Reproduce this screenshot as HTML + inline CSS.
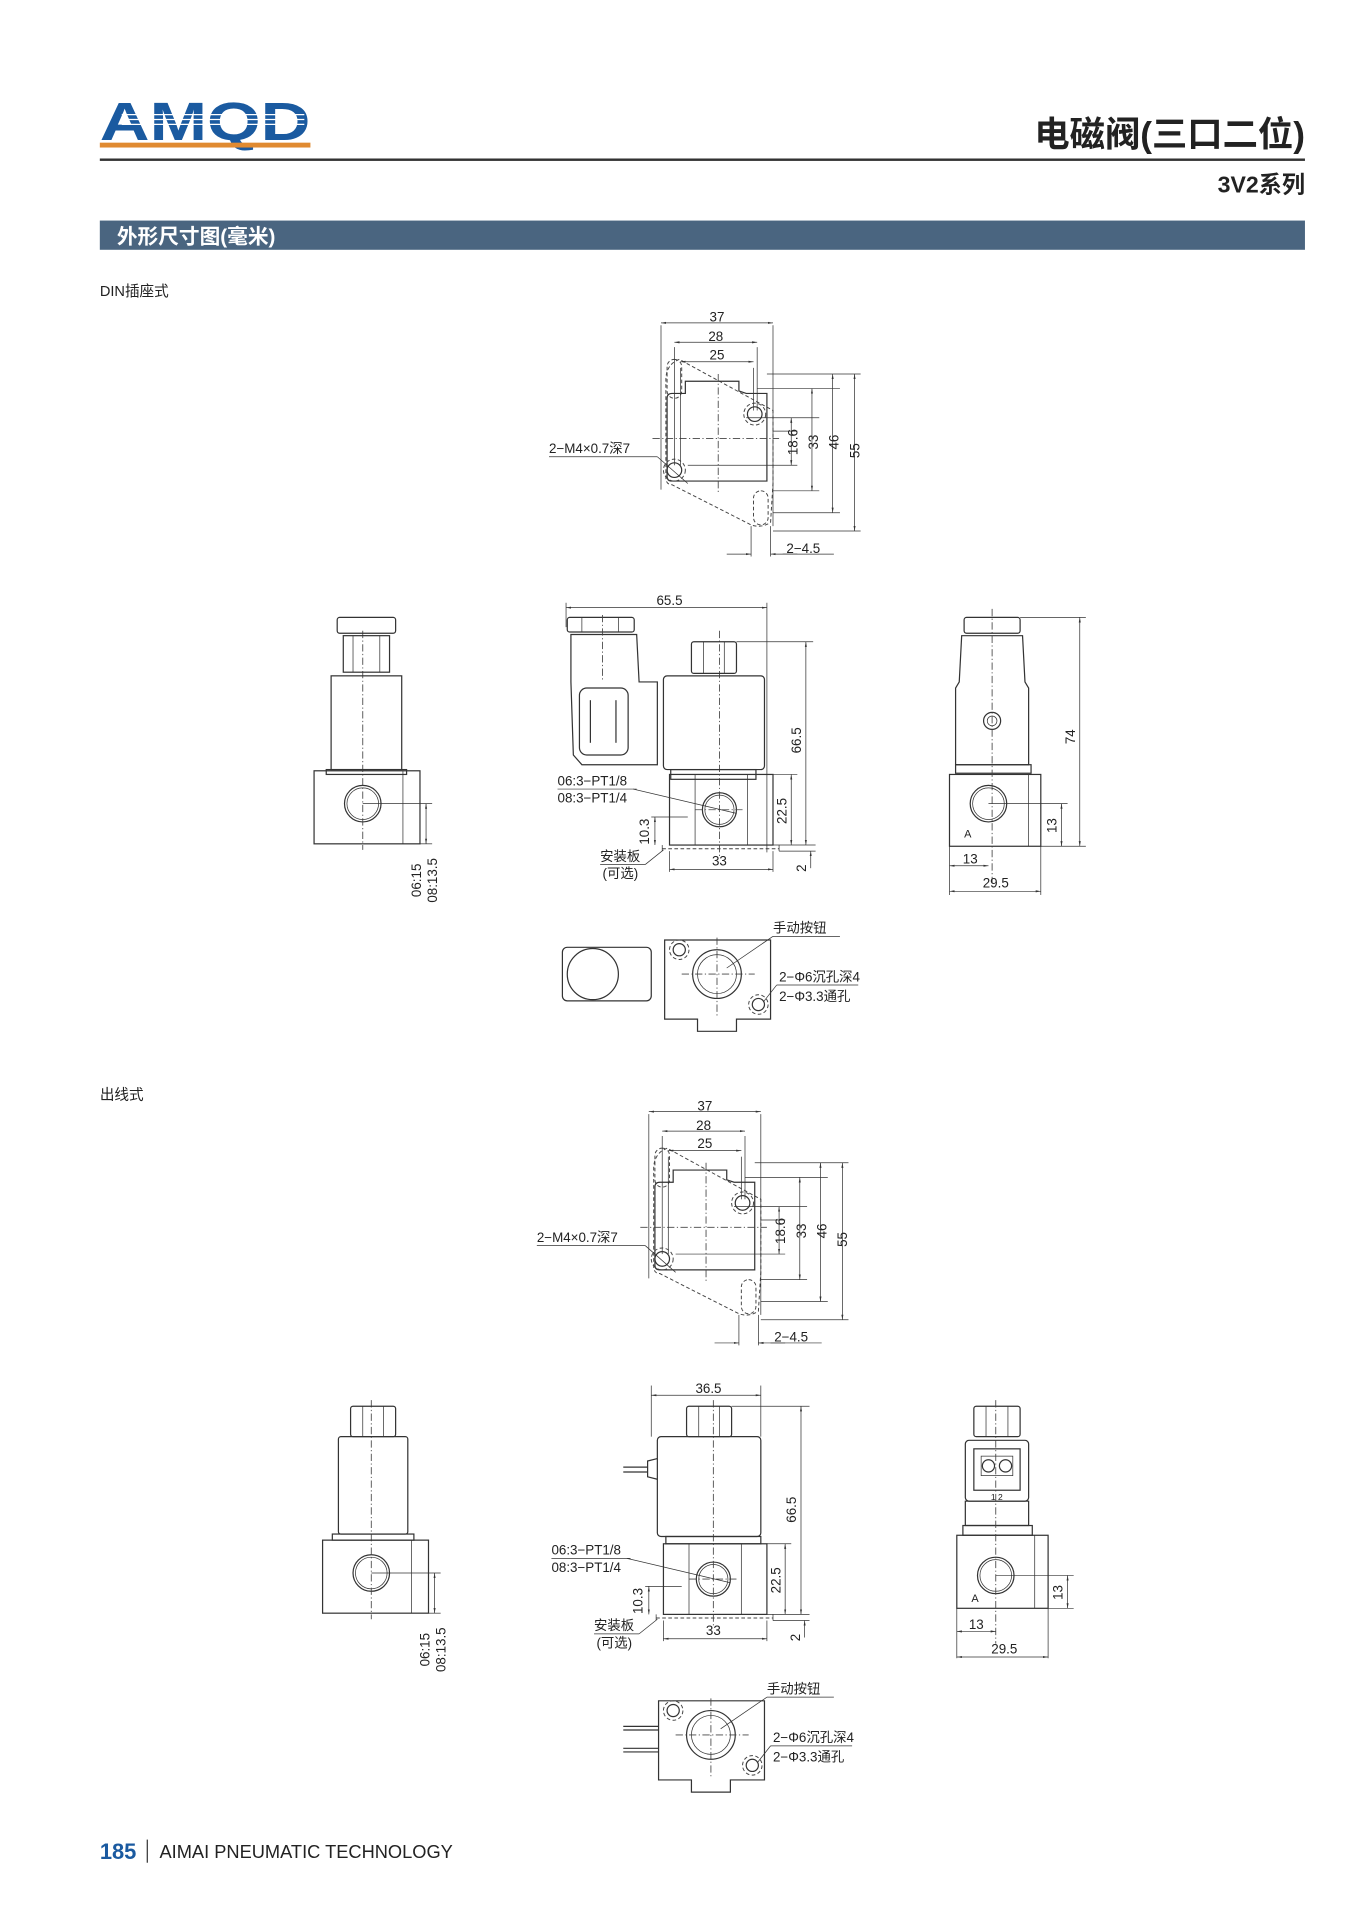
<!DOCTYPE html>
<html><head><meta charset="utf-8"><style>
html,body{margin:0;padding:0;background:#fff;}
svg{display:block;}
text{font-family:"Liberation Sans","Noto Sans CJK SC",sans-serif;fill:#222;}
.l{fill:none;stroke:#333;stroke-width:1;}
.t{fill:none;stroke:#333;stroke-width:0.6;}
.d{fill:none;stroke:#444;stroke-width:0.7;stroke-dasharray:6 2 1 2;}
.h{fill:none;stroke:#444;stroke-width:0.8;stroke-dasharray:3 2;}
.dim{font-size:11px;}
</style></head><body>
<svg width="1350" height="1908" viewBox="0 0 1109 1567" xmlns="http://www.w3.org/2000/svg">
<defs>
<marker id="a" viewBox="0 0 10 10" refX="10" refY="5" markerWidth="7" markerHeight="7" orient="auto-start-reverse"><path d="M0,3 L10,5 L0,7z" fill="#333"/></marker>

<g id="top">
  <path class="h" d="M548,943 L544,945 Q537,950 537,960 L537,1040 Q537,1046 542,1046 L607,1079 Q615,1082 623,1077 L625,1045 L625,985 L548,943z"/>
  <rect class="h" x="538" y="943" width="12" height="32" rx="6"/>
  <rect class="h" x="609" y="1051" width="12" height="28" rx="6"/>
  <path class="l" d="M538,975 Q538,971 542,971 L553,971 L553,961 L597,961 L597,969 L603,971 L620,971 L620,1043 L542,1043 Q538,1043 538,1039z"/>
  <line class="d" x1="526" y1="1008" x2="630" y2="1008"/>
  <line class="d" x1="580" y1="955" x2="580" y2="1052"/>
  <circle class="l" cx="610" cy="988" r="6"/><circle class="h" cx="610" cy="988" r="9"/>
  <circle class="l" cx="544" cy="1034" r="6"/><circle class="h" cx="544" cy="1034" r="9"/>
  <g class="t">
  <line x1="533" y1="915" x2="533" y2="1050"/><line x1="625" y1="915" x2="625" y2="1080"/>
  <line x1="544" y1="933" x2="544" y2="1030"/><line x1="612" y1="933" x2="612" y2="985"/>
  <line x1="549" y1="950" x2="549" y2="1030"/><line x1="609" y1="950" x2="609" y2="985"/>
  <line x1="620" y1="955" x2="697" y2="955"/><line x1="612" y1="967" x2="680" y2="967"/>
  <line x1="603" y1="991" x2="663" y2="991"/><line x1="625" y1="1002" x2="645" y2="1002"/>
  <line x1="555" y1="1030" x2="645" y2="1030"/><line x1="625" y1="1051" x2="663" y2="1051"/>
  <line x1="625" y1="1069" x2="680" y2="1069"/><line x1="625" y1="1084" x2="697" y2="1084"/>
  <line x1="607" y1="1080" x2="607" y2="1105"/><line x1="623" y1="1080" x2="623" y2="1105"/>
  </g>
  <line class="t" x1="533" y1="913" x2="625" y2="913" marker-start="url(#a)" marker-end="url(#a)"/>
  <line class="t" x1="544" y1="929" x2="612" y2="929" marker-start="url(#a)" marker-end="url(#a)"/>
  <line class="t" x1="549" y1="945" x2="609" y2="945" marker-start="url(#a)" marker-end="url(#a)"/>
  <line class="t" x1="640" y1="991" x2="640" y2="1030" marker-start="url(#a)" marker-end="url(#a)"/>
  <line class="t" x1="657" y1="967" x2="657" y2="1051" marker-start="url(#a)" marker-end="url(#a)"/>
  <line class="t" x1="674" y1="955" x2="674" y2="1069" marker-start="url(#a)" marker-end="url(#a)"/>
  <line class="t" x1="692" y1="955" x2="692" y2="1084" marker-start="url(#a)" marker-end="url(#a)"/>
  <line class="t" x1="587" y1="1103" x2="607" y2="1103" marker-end="url(#a)"/>
  <line class="t" x1="645" y1="1103" x2="623" y2="1103" marker-end="url(#a)"/>
  <line class="t" x1="633" y1="1103" x2="675" y2="1103"/>
  <text class="dim" x="579" y="912" text-anchor="middle">37</text>
  <text class="dim" x="578" y="928" text-anchor="middle">28</text>
  <text class="dim" x="579" y="943" text-anchor="middle">25</text>
  <text class="dim" x="636" y="1102">2−4.5</text>
  <text class="dim" transform="translate(645,1011) rotate(-90)" text-anchor="middle">18.6</text>
  <text class="dim" transform="translate(662,1011) rotate(-90)" text-anchor="middle">33</text>
  <text class="dim" transform="translate(679,1011) rotate(-90)" text-anchor="middle">46</text>
  <text class="dim" transform="translate(696,1018) rotate(-90)" text-anchor="middle">55</text>
  <text class="dim" x="441" y="1020">2−M4×0.7深7</text>
  <line class="t" x1="441" y1="1023" x2="530" y2="1023"/>
  <line class="t" x1="530" y1="1023" x2="555" y2="1045"/>
</g>

<g id="base">
  <rect class="l" x="545" y="1268" width="85" height="58"/>
  <line class="t" x1="566" y1="1268" x2="566" y2="1326"/><line class="t" x1="609" y1="1268" x2="609" y2="1326"/>
  <circle class="l" cx="586" cy="1297" r="14"/><circle class="t" cx="586" cy="1297" r="12"/>
  <line class="h" x1="539" y1="1329" x2="635" y2="1329"/>
  <line class="t" x1="539" y1="1326" x2="539" y2="1331"/><line class="t" x1="635" y1="1326" x2="635" y2="1331"/>
  <line class="d" x1="586" y1="1150" x2="586" y2="1335"/>
  <line class="d" x1="566" y1="1297" x2="606" y2="1297"/>
  <g class="t">
  <line x1="630" y1="1268" x2="650" y2="1268"/><line x1="630" y1="1326" x2="665" y2="1326"/>
  <line x1="635" y1="1331" x2="665" y2="1331"/><line x1="530" y1="1303" x2="560" y2="1303"/>
  <line x1="545" y1="1331" x2="545" y2="1348"/><line x1="630" y1="1331" x2="630" y2="1348"/>
  </g>
  <line class="t" x1="645" y1="1268" x2="645" y2="1326" marker-start="url(#a)" marker-end="url(#a)"/>
  <line class="t" x1="533" y1="1303" x2="533" y2="1326" marker-start="url(#a)" marker-end="url(#a)"/>
  <line class="t" x1="545" y1="1346" x2="630" y2="1346" marker-start="url(#a)" marker-end="url(#a)"/>
  <line class="t" x1="661" y1="1345" x2="661" y2="1331" marker-end="url(#a)"/>
  <text class="dim" transform="translate(641,1298) rotate(-90)" text-anchor="middle">22.5</text>
  <text class="dim" transform="translate(528,1315) rotate(-90)" text-anchor="middle">10.3</text>
  <text class="dim" transform="translate(657,1345) rotate(-90)" text-anchor="middle">2</text>
  <text class="dim" x="586" y="1343" text-anchor="middle">33</text>
  <text class="dim" x="453" y="1277">06:3−PT1/8</text>
  <line class="t" x1="453" y1="1280" x2="518" y2="1280"/>
  <line class="t" x1="515" y1="1280" x2="600" y2="1300"/>
  <text class="dim" x="453" y="1291">08:3−PT1/4</text>
  <text class="dim" x="488" y="1339">安装板</text>
  <line class="t" x1="488" y1="1342" x2="525" y2="1342"/><line class="t" x1="525" y1="1342" x2="540" y2="1330"/>
  <text class="dim" x="490" y="1353">(可选)</text>
</g>

<g id="side">
  <rect class="l" x="265" y="1265" width="87" height="60"/>
  <line class="t" x1="338" y1="1265" x2="338" y2="1325"/>
  <circle class="l" cx="305" cy="1292" r="15"/><circle class="t" cx="305" cy="1292" r="13"/>
  <line class="d" x1="305" y1="1150" x2="305" y2="1330"/>
  <line class="t" x1="305" y1="1292" x2="362" y2="1292"/><line class="t" x1="352" y1="1325" x2="362" y2="1325"/>
  <line class="t" x1="357" y1="1292" x2="357" y2="1325" marker-start="url(#a)" marker-end="url(#a)"/>
  <text class="dim" transform="translate(353,1355) rotate(-90)" text-anchor="middle">06:15</text>
  <text class="dim" transform="translate(366,1355) rotate(-90)" text-anchor="middle">08:13.5</text>
</g>

<g id="bottom">
  <path class="l" d="M541,1397 L628,1397 L628,1462 L600,1462 L600,1472 L568,1472 L568,1462 L541,1462z"/>
  <circle class="l" cx="584" cy="1425" r="20"/><circle class="t" cx="584" cy="1425" r="16"/>
  <circle class="l" cx="553" cy="1405" r="5"/><circle class="h" cx="553" cy="1405" r="8"/>
  <circle class="l" cx="618" cy="1450" r="5"/><circle class="h" cx="618" cy="1450" r="8"/>
  <line class="d" x1="555" y1="1425" x2="615" y2="1425"/><line class="d" x1="584" y1="1395" x2="584" y2="1460"/>
  <text class="dim" x="630" y="1391">手动按钮</text>
  <line class="t" x1="630" y1="1394" x2="685" y2="1394"/><line class="t" x1="630" y1="1394" x2="592" y2="1420"/>
  <text class="dim" x="635" y="1431">2−Φ6沉孔深4</text>
  <text class="dim" x="635" y="1447">2−Φ3.3通孔</text>
  <line class="t" x1="633" y1="1434" x2="700" y2="1434"/><line class="t" x1="633" y1="1434" x2="622" y2="1448"/>
</g>
</defs>

<!-- header -->
<text x="82" y="115" textLength="173" lengthAdjust="spacingAndGlyphs" style="font-size:44px;font-weight:bold;fill:#1a5aa0;">AMQD</text>
<g stroke="#fff" stroke-width="1"><line x1="100" y1="94" x2="250" y2="94"/><line x1="100" y1="98" x2="250" y2="98"/><line x1="100" y1="102" x2="250" y2="102"/></g>
<rect x="82" y="117" width="173" height="4" fill="#e08a30"/>
<rect x="82" y="130" width="990" height="2" fill="#333"/>
<text x="1072" y="120" text-anchor="end" style="font-size:29px;font-weight:bold;">电磁阀(三口二位)</text>
<text x="1072" y="158" text-anchor="end" style="font-size:19px;font-weight:bold;">3V2系列</text>
<rect x="82" y="181" width="990" height="24" fill="#4a6580"/>
<text x="96" y="200" style="font-size:17px;font-weight:bold;fill:#fff">外形尺寸图(毫米)</text>
<text x="82" y="243" style="font-size:12px;">DIN插座式</text>
<text x="82" y="903" style="font-size:12px;">出线式</text>

<!-- Section 1 -->
<use href="#top" transform="translate(10,-648)"/>
<g transform="translate(5,-632)"><use href="#base"/></g>
<g transform="translate(-7,-632)"><use href="#side"/></g>
<g transform="translate(5,-625)"><use href="#bottom"/></g>

<!-- front DIN -->
<rect class="l" x="551" y="632" width="70" height="8"/>
<rect class="l" x="545" y="555" width="83" height="77" rx="3"/>
<rect class="l" x="568" y="527" width="37" height="26" rx="2"/>
<line class="t" x1="578" y1="527" x2="578" y2="553"/><line class="t" x1="595" y1="527" x2="595" y2="553"/>
<rect class="l" x="466" y="507" width="55" height="12" rx="2"/>
<line class="t" x1="478" y1="507" x2="478" y2="519"/><line class="t" x1="508" y1="507" x2="508" y2="519"/>
<path class="l" d="M469,521 L523,521 L525,560 L540,560 L540,628 L478,628 L471,620 L469,560z"/>
<rect class="l" x="476" y="565" width="40" height="55" rx="6"/>
<line class="l" x1="485" y1="575" x2="485" y2="610"/><line class="l" x1="506" y1="575" x2="506" y2="610"/>
<line class="d" x1="495" y1="505" x2="495" y2="560"/>
<line class="t" x1="465" y1="495" x2="465" y2="515"/><line class="t" x1="630" y1="495" x2="630" y2="700"/>
<line class="t" x1="465" y1="499" x2="630" y2="499" marker-start="url(#a)" marker-end="url(#a)"/>
<text class="dim" x="550" y="497" text-anchor="middle">65.5</text>
<line class="t" x1="605" y1="527" x2="668" y2="527"/>
<line class="t" x1="662" y1="527" x2="662" y2="694" marker-start="url(#a)" marker-end="url(#a)"/>
<text class="dim" transform="translate(658,608) rotate(-90)" text-anchor="middle">66.5</text>

<!-- side left DIN -->
<rect class="l" x="277" y="507" width="48" height="13" rx="2"/>
<rect class="l" x="282" y="522" width="38" height="30"/>
<line class="t" x1="290" y1="522" x2="290" y2="552"/><line class="t" x1="312" y1="522" x2="312" y2="552"/>
<rect class="l" x="272" y="555" width="58" height="77"/>
<rect class="l" x="268" y="632" width="66" height="4"/>

<!-- right DIN -->
<rect class="l" x="792" y="507" width="46" height="13" rx="2"/>
<path class="l" d="M790,522 L840,522 L842,560 L845,565 L845,628 L785,628 L785,565 L788,560z"/>
<circle class="l" cx="815" cy="592" r="7"/><circle class="t" cx="815" cy="592" r="4"/>
<rect class="l" x="785" y="628" width="62" height="7"/>
<rect class="l" x="780" y="636" width="75" height="59"/>
<line class="t" x1="845" y1="636" x2="845" y2="695"/>
<circle class="l" cx="812" cy="660" r="15"/><circle class="t" cx="812" cy="660" r="13"/>
<line class="d" x1="815" y1="500" x2="815" y2="725"/>
<text x="792" y="688" style="font-size:9px">A</text>
<line class="t" x1="838" y1="507" x2="892" y2="507"/><line class="t" x1="855" y1="695" x2="892" y2="695"/>
<line class="t" x1="812" y1="660" x2="877" y2="660"/>
<line class="t" x1="887" y1="507" x2="887" y2="695" marker-start="url(#a)" marker-end="url(#a)"/>
<line class="t" x1="872" y1="660" x2="872" y2="695" marker-start="url(#a)" marker-end="url(#a)"/>
<text class="dim" transform="translate(883,605) rotate(-90)" text-anchor="middle">74</text>
<text class="dim" transform="translate(868,678) rotate(-90)" text-anchor="middle">13</text>
<line class="t" x1="780" y1="695" x2="780" y2="735"/><line class="t" x1="855" y1="695" x2="855" y2="735"/>
<line class="t" x1="780" y1="711" x2="812" y2="711" marker-start="url(#a)" marker-end="url(#a)"/>
<line class="t" x1="780" y1="732" x2="855" y2="732" marker-start="url(#a)" marker-end="url(#a)"/>
<text class="dim" x="797" y="709" text-anchor="middle">13</text>
<text class="dim" x="818" y="729" text-anchor="middle">29.5</text>

<!-- bottom DIN coil -->
<rect class="l" x="462" y="778" width="73" height="44" rx="4"/>
<circle class="l" cx="487" cy="800" r="21"/>

<!-- Section 2 -->
<use href="#top"/>
<use href="#base"/>
<use href="#side"/>
<use href="#bottom"/>

<!-- front 2 -->
<rect class="l" x="547" y="1262" width="78" height="6"/>
<rect class="l" x="540" y="1180" width="85" height="82" rx="3"/>
<rect class="l" x="564" y="1155" width="37" height="25" rx="2"/>
<line class="t" x1="574" y1="1155" x2="574" y2="1180"/><line class="t" x1="591" y1="1155" x2="591" y2="1180"/>
<path class="l" d="M540,1198 L532,1200 L532,1213 L540,1215"/>
<line class="l" x1="512" y1="1205" x2="532" y2="1205"/><line class="l" x1="512" y1="1209" x2="532" y2="1209"/>
<line class="t" x1="535" y1="1138" x2="535" y2="1180"/><line class="t" x1="625" y1="1138" x2="625" y2="1180"/>
<line class="t" x1="535" y1="1146" x2="625" y2="1146" marker-start="url(#a)" marker-end="url(#a)"/>
<text class="dim" x="582" y="1144" text-anchor="middle">36.5</text>
<line class="t" x1="601" y1="1155" x2="665" y2="1155"/>
<line class="t" x1="658" y1="1155" x2="658" y2="1326" marker-start="url(#a)" marker-end="url(#a)"/>
<text class="dim" transform="translate(654,1240) rotate(-90)" text-anchor="middle">66.5</text>

<!-- left 2 -->
<rect class="l" x="288" y="1155" width="37" height="25" rx="2"/>
<line class="t" x1="298" y1="1155" x2="298" y2="1180"/><line class="t" x1="315" y1="1155" x2="315" y2="1180"/>
<rect class="l" x="278" y="1180" width="57" height="80" rx="2"/>
<rect class="l" x="273" y="1260" width="67" height="5"/>

<!-- right 2 -->
<rect class="l" x="800" y="1155" width="38" height="25" rx="2"/>
<line class="t" x1="810" y1="1155" x2="810" y2="1180"/><line class="t" x1="828" y1="1155" x2="828" y2="1180"/>
<rect class="l" x="793" y="1183" width="52" height="50" rx="3"/>
<rect class="l" x="800" y="1190" width="38" height="34"/>
<rect class="t" x="806" y="1196" width="26" height="16"/>
<circle class="l" cx="812" cy="1204" r="5"/><circle class="l" cx="826" cy="1204" r="5"/>
<text x="814" y="1232" style="font-size:7px">1 2</text>
<path class="l" d="M793,1233 L845,1233 L845,1253 L793,1253z"/>
<rect class="l" x="791" y="1253" width="57" height="8"/>
<rect class="l" x="786" y="1261" width="75" height="60"/>
<line class="t" x1="850" y1="1261" x2="850" y2="1321"/>
<circle class="l" cx="818" cy="1294" r="15"/><circle class="t" cx="818" cy="1294" r="13"/>
<line class="d" x1="818" y1="1150" x2="818" y2="1350"/>
<text x="798" y="1316" style="font-size:9px">A</text>
<line class="t" x1="818" y1="1294" x2="882" y2="1294"/><line class="t" x1="861" y1="1321" x2="882" y2="1321"/>
<line class="t" x1="877" y1="1294" x2="877" y2="1321" marker-start="url(#a)" marker-end="url(#a)"/>
<text class="dim" transform="translate(873,1308) rotate(-90)" text-anchor="middle">13</text>
<line class="t" x1="786" y1="1321" x2="786" y2="1362"/><line class="t" x1="861" y1="1321" x2="861" y2="1362"/>
<line class="t" x1="786" y1="1340" x2="818" y2="1340" marker-start="url(#a)" marker-end="url(#a)"/>
<line class="t" x1="786" y1="1361" x2="861" y2="1361" marker-start="url(#a)" marker-end="url(#a)"/>
<text class="dim" x="802" y="1338" text-anchor="middle">13</text>
<text class="dim" x="825" y="1358" text-anchor="middle">29.5</text>

<!-- bottom 2 wires -->
<line class="l" x1="512" y1="1418" x2="541" y2="1418"/><line class="l" x1="512" y1="1421" x2="541" y2="1421"/>
<line class="l" x1="512" y1="1436" x2="541" y2="1436"/><line class="l" x1="512" y1="1439" x2="541" y2="1439"/>

<!-- footer -->
<text x="82" y="1527" style="font-size:18px;font-weight:bold;fill:#1a5aa0">185</text>
<line x1="121" y1="1511" x2="121" y2="1530" stroke="#333" stroke-width="1"/>
<text x="131" y="1526" style="font-size:15px;">AIMAI PNEUMATIC TECHNOLOGY</text>
</svg>
</body></html>
